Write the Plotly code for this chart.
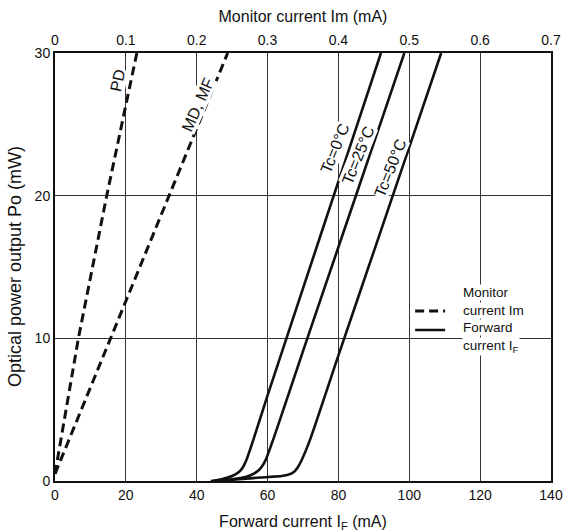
import plotly.graph_objects as go

# Forward current curves (IF in mA, Po in mW)
if_tc0 = [44, 47, 50, 52, 53, 54, 56, 60, 70, 80, 92]
po_tc0 = [0.0, 0.12, 0.35, 0.65, 0.95, 1.45, 2.9, 6.0, 13.5, 21.0, 30.0]

if_tc25 = [45, 50, 54, 56, 57.5, 58.5, 59.5, 62, 70, 80, 90, 98.6]
po_tc25 = [0.0, 0.12, 0.3, 0.5, 0.75, 1.05, 1.5, 3.2, 9.1, 16.4, 23.7, 30.0]

if_tc50 = [45, 52, 58, 64, 66, 67.5, 68.5, 69.5, 72, 80, 90, 100, 109]
po_tc50 = [0.0, 0.12, 0.25, 0.35, 0.45, 0.65, 0.95, 1.4, 2.9, 8.8, 16.1, 23.4, 30.0]

# Monitor current lines (Im in mA)
im_pd = [0.0, 0.033, 0.073, 0.1155]
po_pd = [0.5, 10.0, 20.0, 30.0]
im_md = [0.0, 0.078, 0.161, 0.2437]
po_md = [0.5, 10.0, 20.0, 30.0]

x_ticks = [0, 20, 40, 60, 80, 100, 120, 140]
x2_ticks = [0, 0.1, 0.2, 0.3, 0.4, 0.5, 0.6, 0.7]
x2_labels = ["0", "0.1", "0.2", "0.3", "0.4", "0.5", "0.6", "0.7"]
y_ticks = [0, 10, 20, 30]

legend_lines = ["Monitor", "current Im", "Forward", "current I<sub>F</sub>"]

FONT = "Liberation Sans, Arial, sans-serif"
INK = "#111111"
fig = go.Figure()

dashed = dict(color=INK, width=3, dash="9px,5px")
fig.add_trace(go.Scatter(x=im_pd, y=po_pd, mode="lines", line=dashed, xaxis="x2",
                         name=" ", showlegend=True, legendrank=1))
fig.add_trace(go.Scatter(x=im_md, y=po_md, mode="lines", line=dashed, xaxis="x2", showlegend=False))

solid = dict(color=INK, width=2.6, shape="spline", smoothing=0.6)
fig.add_trace(go.Scatter(x=if_tc0, y=po_tc0, mode="lines", line=solid,
                         name=" ", showlegend=True, legendrank=2))
fig.add_trace(go.Scatter(x=if_tc25, y=po_tc25, mode="lines", line=solid, showlegend=False))
fig.add_trace(go.Scatter(x=if_tc50, y=po_tc50, mode="lines", line=solid, showlegend=False))

labels = [
    ("PD", 0.088, 28.1, -78, "x2"),
    ("MD, MF", 0.2015, 26.4, -66, "x2"),
    ("Tc=0°C", 79.0, 23.3, -68, "x"),
    ("Tc=25°C", 85.6, 22.8, -68, "x"),
    ("Tc=50°C", 94.6, 21.9, -68, "x"),
]
for txt, xv, yv, ang, xr in labels:
    fig.add_annotation(x=xv, y=yv, xref=xr, yref="y", text=txt, textangle=ang,
                       showarrow=False, bgcolor="white", borderpad=0,
                       font=dict(family=FONT, size=16, color=INK))

# legend texts (one line each, tight line spacing as in the original)
leg_x = 0.8206
leg_y = [0.4402, 0.3991, 0.3579, 0.3143]
for txt, yv in zip(legend_lines, leg_y):
    fig.add_annotation(x=leg_x, y=yv, xref="paper", yref="paper", text=txt,
                       xanchor="left", yanchor="middle", showarrow=False,
                       bgcolor="white", borderpad=0,
                       font=dict(family=FONT, size=13.5, color=INK))

# y-axis title placed like the original
fig.add_annotation(x=-0.0806, y=0.5, xref="paper", yref="paper",
                   text="Optical power output Po (mW)", textangle=-90,
                   xanchor="center", yanchor="middle", showarrow=False,
                   font=dict(family=FONT, size=18, color=INK))

axis_common = dict(showline=True, linecolor=INK, linewidth=2, ticks="", automargin=False,
                   zeroline=False, tickfont=dict(family=FONT, size=14, color=INK))

fig.update_layout(
    width=572, height=532,
    margin=dict(l=55, r=21, t=53, b=51),
    paper_bgcolor="white", plot_bgcolor="white",
    font=dict(family=FONT, size=14, color=INK),
    xaxis=dict(range=[0, 140], tickvals=x_ticks, showgrid=True, gridcolor="#333333",
               gridwidth=1, title=dict(text="Forward current I<sub>F</sub> (mA)",
                                       font=dict(family=FONT, size=16), standoff=14),
               **axis_common),
    xaxis2=dict(range=[0, 0.7], tickvals=x2_ticks, ticktext=x2_labels, overlaying="x",
                side="top", showgrid=False,
                title=dict(text="Monitor current Im (mA)", font=dict(family=FONT, size=16), standoff=6),
                **axis_common),
    yaxis=dict(range=[0, 30], tickvals=y_ticks, showgrid=True, gridcolor="#333333",
               gridwidth=1, mirror=True, **axis_common),
    legend=dict(x=0.716, y=0.431, xanchor="left", yanchor="top", bgcolor="rgba(0,0,0,0)",
                font=dict(family=FONT, size=10, color=INK), tracegroupgap=0, itemwidth=30),
)

fig.write_html("out.html")
